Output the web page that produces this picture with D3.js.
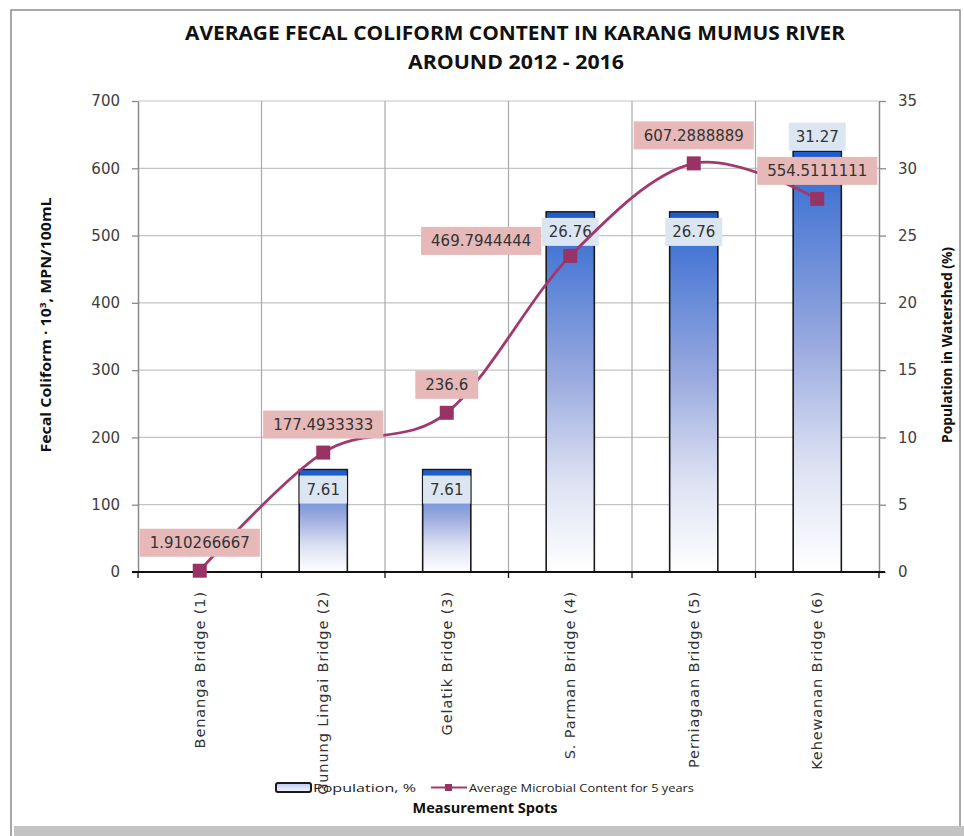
<!DOCTYPE html>
<meta charset="utf-8">
<head>
  <title>Average fecal coliform content</title>
  <script src="https://d3js.org/d3.v7.min.js"></script>
  <style>
    body { margin: 0; background: #fff; }
    text { font-family: "DejaVu Sans", sans-serif; }
  </style>
</head>
<body>
<svg width="964" height="836"></svg>
<script>
// chart data
var categories = ["Benanga Bridge (1)", "Gunung Lingai Bridge (2)", "Gelatik Bridge (3)",
                  "S. Parman Bridge (4)", "Perniagaan Bridge (5)", "Kehewanan Bridge (6)"];
var population = [null, 7.61, 7.61, 26.76, 26.76, 31.27];
var microbial = [1.910266667, 177.4933333, 236.6, 469.7944444, 607.2888889, 554.5111111];
var leftTicks = [0, 100, 200, 300, 400, 500, 600, 700];
var rightTicks = [0, 5, 10, 15, 20, 25, 30, 35];

var svg = d3.select("svg"),
    margin = {top: 101, right: 85, bottom: 264, left: 138},
    width = +svg.attr("width") - margin.left - margin.right,
    height = +svg.attr("height") - margin.top - margin.bottom;

// frame
svg.append("rect").attr("x", 11).attr("y", 10).attr("width", 949).attr("height", 830)
  .attr("fill", "none").attr("stroke", "#8c8c8c").attr("stroke-width", 1.5);
svg.append("rect").attr("x", 14).attr("y", 826).attr("width", 950).attr("height", 10)
  .attr("fill", "#c3c3c3");

var defs = svg.append("defs");
var grad = defs.append("linearGradient").attr("id", "barGrad")
  .attr("x1", 0).attr("y1", 0).attr("x2", 0).attr("y2", 1);
grad.append("stop").attr("offset", "0%").attr("stop-color", "#3169d2");
grad.append("stop").attr("offset", "45%").attr("stop-color", "#97a8de");
grad.append("stop").attr("offset", "75%").attr("stop-color", "#dde2f3");
grad.append("stop").attr("offset", "100%").attr("stop-color", "#ffffff");
var legGrad = defs.append("linearGradient").attr("id", "legGrad")
  .attr("x1", 0).attr("y1", 0).attr("x2", 0).attr("y2", 1);
legGrad.append("stop").attr("offset", "0%").attr("stop-color", "#b8c8ee");
legGrad.append("stop").attr("offset", "100%").attr("stop-color", "#f4f6fc");

var g = svg.append("g").attr("transform", "translate(" + margin.left + "," + margin.top + ")");

var x = d3.scaleBand().domain(categories).range([0, width]).padding(0);
var yL = d3.scaleLinear().domain([0, 700]).range([height, 0]);
var yR = d3.scaleLinear().domain([0, 35]).range([height, 0]);

// gridlines
g.append("g").selectAll("line").data(leftTicks).enter().append("line")
  .attr("x1", 0).attr("x2", width)
  .attr("y1", function(d) { return yL(d); }).attr("y2", function(d) { return yL(d); })
  .attr("stroke", "#c4c4c4").attr("stroke-width", 1.2);
var bounds = categories.map(function(c) { return x(c); }).concat([width]);
g.append("g").selectAll("line").data(bounds.slice(1, -1)).enter().append("line")
  .attr("x1", function(d) { return d; }).attr("x2", function(d) { return d; })
  .attr("y1", 0).attr("y2", height)
  .attr("stroke", "#a9a9a9").attr("stroke-width", 1.2);

// bars
var barW = x.bandwidth() * 0.39;
var barData = categories.map(function(c, i) { return {cat: c, v: population[i], i: i}; })
  .filter(function(d) { return d.v != null; });
g.append("g").selectAll("rect").data(barData).enter().append("rect")
  .attr("x", function(d) { return x(d.cat) + (x.bandwidth() - barW) / 2; })
  .attr("y", function(d) { return yR(d.v); })
  .attr("width", barW)
  .attr("height", function(d) { return height - yR(d.v); })
  .attr("fill", "url(#barGrad)")
  .attr("stroke", "#1a1a1a").attr("stroke-width", 1.6);
g.append("g").selectAll("rect").data(barData).enter().append("rect")
  .attr("x", function(d) { return x(d.cat) + (x.bandwidth() - barW) / 2 + 1; })
  .attr("y", function(d) { return yR(d.v) + 1; })
  .attr("width", barW - 2).attr("height", 5)
  .attr("fill", "#1f5dcc");

// axes
var axL = g.append("g").call(d3.axisLeft(yL).tickValues(leftTicks).tickSize(6).tickPadding(12).tickSizeOuter(0));
var axR = g.append("g").attr("transform", "translate(" + width + ",0)")
  .call(d3.axisRight(yR).tickValues(rightTicks).tickSize(7).tickPadding(12).tickSizeOuter(0));
[axL, axR].forEach(function(ax) {
  ax.select(".domain").attr("stroke", "#8a8a8a").attr("stroke-width", 1.5);
  ax.selectAll(".tick line").attr("stroke", "#8a8a8a").attr("stroke-width", 1.3);
  ax.selectAll(".tick text").attr("fill", "#404040").style("font-size", "15px")
    .style("font-family", "DejaVu Sans, sans-serif");
});

// x axis
g.append("line").attr("x1", -6).attr("x2", width + 6).attr("y1", height).attr("y2", height)
  .attr("stroke", "#111").attr("stroke-width", 2);
g.append("g").selectAll("line").data(bounds).enter().append("line")
  .attr("x1", function(d) { return d; }).attr("x2", function(d) { return d; })
  .attr("y1", height).attr("y2", height + 6)
  .attr("stroke", "#111").attr("stroke-width", 1.3);
g.append("g").selectAll("text").data(categories).enter().append("text")
  .attr("transform", function(d) { return "translate(" + (x(d) + x.bandwidth() / 2) + "," + (height + 19) + ") rotate(-90)"; })
  .attr("text-anchor", "end").attr("dy", "0.35em")
  .style("font-size", "14.5px").style("letter-spacing", "0.9px").attr("fill", "#333")
  .text(function(d) { return d; });

// population labels
var popLab = g.append("g").selectAll("g").data(barData).enter().append("g")
  .attr("transform", function(d) {
    var cy = d.i === categories.length - 1 ? yR(d.v) - 14.5 : yR(d.v) + 20;
    return "translate(" + (x(d.cat) + x.bandwidth() / 2) + "," + cy + ")";
  });
popLab.append("rect").attr("fill", "#dce6f2");
popLab.append("text").attr("text-anchor", "middle").attr("dy", "0.36em")
  .style("font-size", "15px").attr("fill", "#333")
  .text(function(d) { return d.v.toFixed(2); });
popLab.each(function() {
  var w = d3.select(this).select("text").node().getComputedTextLength() + 14;
  d3.select(this).select("rect").attr("x", -w / 2).attr("y", -14).attr("width", w).attr("height", 28);
});

// microbial line
var pts = categories.map(function(c, i) { return [x(c) + x.bandwidth() / 2, yL(microbial[i])]; });
g.append("path").datum(pts)
  .attr("d", d3.line().curve(d3.curveCatmullRom.alpha(0)))
  .attr("fill", "none").attr("stroke", "#a2386c").attr("stroke-width", 2.8);
g.append("g").selectAll("rect").data(pts).enter().append("rect")
  .attr("x", function(d) { return d[0] - 7; }).attr("y", function(d) { return d[1] - 7; })
  .attr("width", 14).attr("height", 14).attr("fill", "#993366");

// microbial labels
var micLab = g.append("g").selectAll("g").data(microbial).enter().append("g");
micLab.append("rect").attr("fill", "#e6b9b8");
micLab.append("text").attr("text-anchor", "middle").attr("dy", "0.36em")
  .style("font-size", "15px").attr("fill", "#333")
  .text(function(d) { return String(d); });
micLab.each(function(d, i) {
  var w = d3.select(this).select("text").node().getComputedTextLength() + 20;
  var p = pts[i], cx = p[0], cy = p[1] - 28;
  if (i === 3) { cx = p[0] - 29 - w / 2; cy = p[1] - 15; }
  d3.select(this).attr("transform", "translate(" + cx + "," + cy + ")");
  d3.select(this).select("rect").attr("x", -w / 2).attr("y", -14).attr("width", w).attr("height", 28);
});

// titles
svg.append("text").attr("x", 515).attr("y", 40).attr("text-anchor", "middle")
  .style("font-family", "Open Sans, sans-serif").style("font-weight", "bold").style("font-size", "19px")
  .attr("textLength", 660).attr("lengthAdjust", "spacingAndGlyphs").attr("fill", "#111")
  .text("AVERAGE FECAL COLIFORM CONTENT IN KARANG MUMUS RIVER");
svg.append("text").attr("x", 516).attr("y", 69).attr("text-anchor", "middle")
  .style("font-family", "Open Sans, sans-serif").style("font-weight", "bold").style("font-size", "19px")
  .attr("textLength", 216).attr("lengthAdjust", "spacingAndGlyphs").attr("fill", "#111")
  .text("AROUND 2012 - 2016");

var yTitle = svg.append("text").attr("transform", "translate(51,325) rotate(-90)")
  .attr("text-anchor", "middle")
  .style("font-family", "Open Sans, sans-serif").style("font-weight", "bold").style("font-size", "14px")
  .attr("textLength", 255).attr("lengthAdjust", "spacingAndGlyphs").attr("fill", "#111");
yTitle.append("tspan").text("Fecal Coliform \u00b7 10");
yTitle.append("tspan").attr("dy", -5).style("font-size", "9px").text("3");
yTitle.append("tspan").attr("dy", 5).text(", MPN/100mL");

svg.append("text").attr("transform", "translate(952,345) rotate(-90)")
  .attr("text-anchor", "middle")
  .style("font-family", "Open Sans, sans-serif").style("font-weight", "bold").style("font-size", "14px")
  .attr("textLength", 196).attr("lengthAdjust", "spacingAndGlyphs").attr("fill", "#111")
  .text("Population in Watershed (%)");

// legend
var leg = svg.append("g");
leg.append("rect").attr("x", 276).attr("y", 783).attr("width", 35).attr("height", 9).attr("rx", 2)
  .attr("fill", "url(#legGrad)").attr("stroke", "#1a1a1a").attr("stroke-width", 2);
leg.append("text").attr("x", 313).attr("y", 792)
  .style("font-family", "Open Sans, sans-serif").style("font-size", "11px").attr("fill", "#222")
  .attr("textLength", 103).attr("lengthAdjust", "spacingAndGlyphs")
  .text("Population, %");
leg.append("line").attr("x1", 431).attr("x2", 467).attr("y1", 787.5).attr("y2", 787.5)
  .attr("stroke", "#a2386c").attr("stroke-width", 2);
leg.append("rect").attr("x", 445).attr("y", 784).attr("width", 7).attr("height", 7).attr("fill", "#993366");
leg.append("text").attr("x", 469).attr("y", 792)
  .style("font-family", "Open Sans, sans-serif").style("font-size", "11px").attr("fill", "#222")
  .attr("textLength", 225).attr("lengthAdjust", "spacingAndGlyphs")
  .text("Average Microbial Content for 5 years");

svg.append("text").attr("x", 485).attr("y", 813).attr("text-anchor", "middle")
  .style("font-family", "Open Sans, sans-serif").style("font-weight", "bold").style("font-size", "15px")
  .attr("textLength", 145).attr("lengthAdjust", "spacingAndGlyphs").attr("fill", "#111")
  .text("Measurement Spots");
</script>
</body>
